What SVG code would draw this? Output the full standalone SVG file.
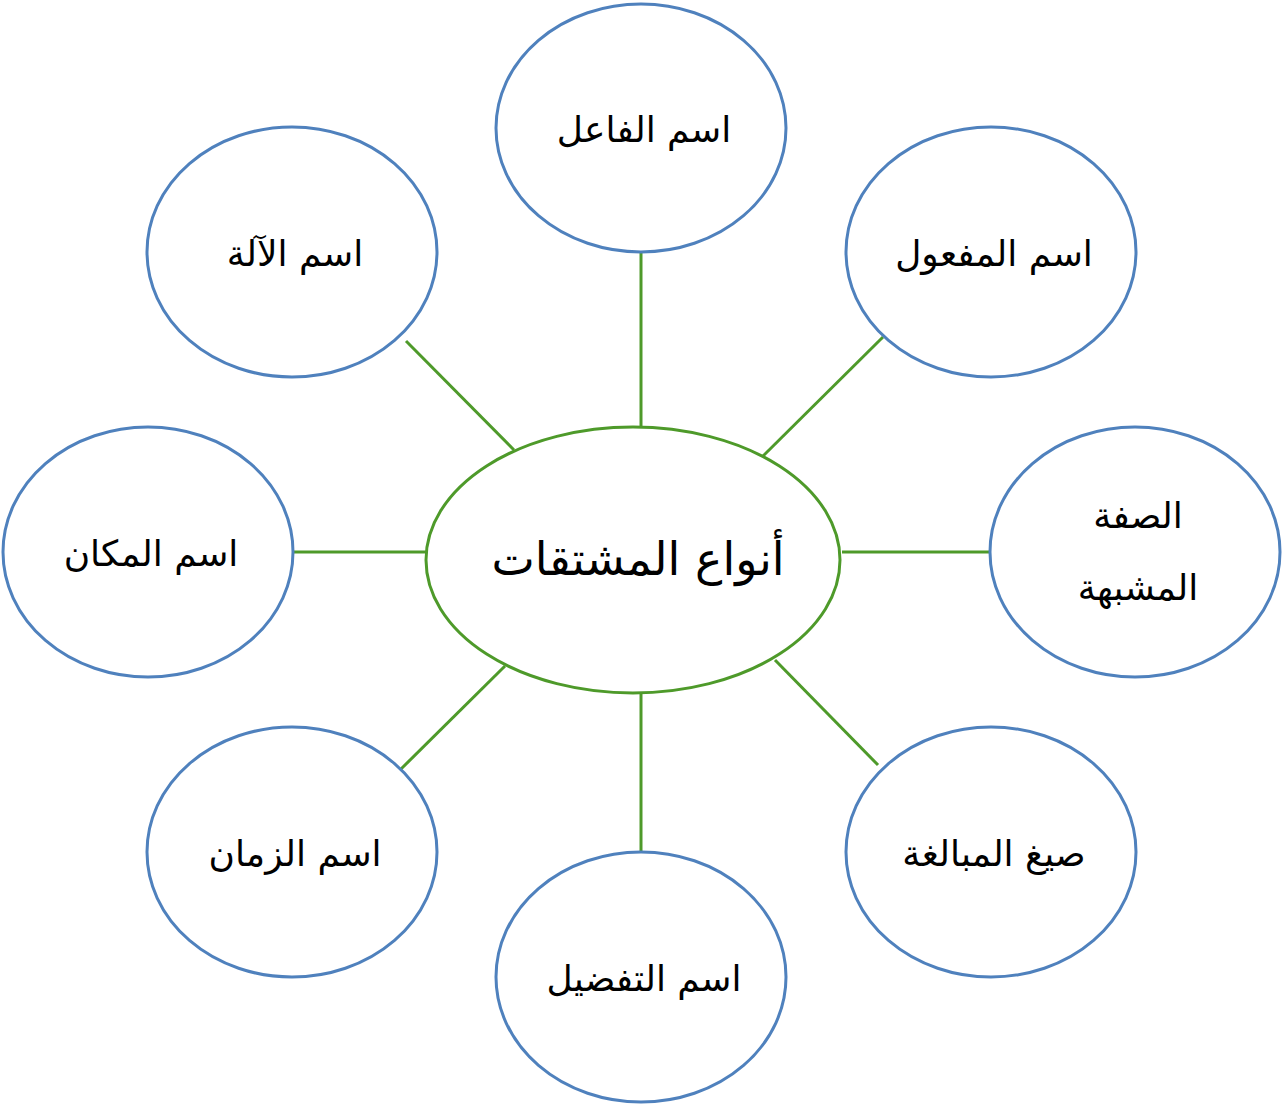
<svg xmlns="http://www.w3.org/2000/svg" width="1284" height="1106" viewBox="0 0 1284 1106">
<style>
.n{fill:#fff;stroke:#4F81BD;stroke-width:3}
.c{fill:#fff;stroke:#4E9A2A;stroke-width:3}
.l{stroke:#4E9A2A;stroke-width:3}
text{font-family:"DejaVu Sans","Noto Sans",sans-serif;font-size:36px;fill:#000;text-anchor:middle;direction:rtl}
.big{font-size:46px}
</style>
<rect width="1284" height="1106" fill="#fff"/>
<g id="connectors">
<line class="l" x1="641" y1="253" x2="641" y2="427"/>
<line class="l" x1="883" y1="337" x2="763" y2="456"/>
<line class="l" x1="842" y1="552" x2="990" y2="552"/>
<line class="l" x1="775" y1="660" x2="878" y2="765"/>
<line class="l" x1="641" y1="694" x2="641" y2="852"/>
<line class="l" x1="505" y1="666" x2="401" y2="769"/>
<line class="l" x1="294" y1="552" x2="426" y2="552"/>
<line class="l" x1="406" y1="341" x2="514" y2="450"/>
</g>
<g id="center"><ellipse class="c" cx="633" cy="560" rx="207" ry="133"/><text class="big" x="638" y="575">أنواع المشتقات</text></g>
<g id="n1"><ellipse class="n" cx="641" cy="128" rx="145" ry="124"/><text x="644" y="142">اسم الفاعل</text></g>
<g id="n2"><ellipse class="n" cx="991" cy="252" rx="145" ry="125"/><text x="994" y="266">اسم المفعول</text></g>
<g id="n3"><ellipse class="n" cx="1135" cy="552" rx="145" ry="125"/><text x="1138" y="528">الصفة</text><text x="1138" y="600">المشبهة</text></g>
<g id="n4"><ellipse class="n" cx="991" cy="852" rx="145" ry="125"/><text x="994" y="866">صيغ المبالغة</text></g>
<g id="n5"><ellipse class="n" cx="641" cy="977" rx="145" ry="125"/><text x="644" y="991">اسم التفضيل</text></g>
<g id="n6"><ellipse class="n" cx="292" cy="852" rx="145" ry="125"/><text x="295" y="866">اسم الزمان</text></g>
<g id="n7"><ellipse class="n" cx="148" cy="552" rx="145" ry="125"/><text x="151" y="566">اسم المكان</text></g>
<g id="n8"><ellipse class="n" cx="292" cy="252" rx="145" ry="125"/><text x="295" y="266">اسم الآلة</text></g>
</svg>
